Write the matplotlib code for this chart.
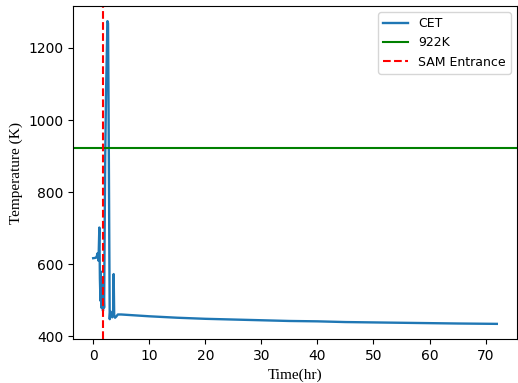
import numpy as np
import matplotlib
matplotlib.use('Agg')
import matplotlib.pyplot as plt

# CET temperature history
time_hr = [0.0, 0.4, 0.6, 0.75, 0.95, 1.1, 1.2, 1.3, 1.35, 1.45, 1.55, 1.65, 1.75,
           1.85, 1.95, 2.05, 2.15, 2.3, 2.45, 2.55, 2.65, 2.72, 2.8, 2.88, 2.95,
           3.05, 3.2, 3.4, 3.55, 3.65, 3.75, 3.9, 4.1, 4.4, 5.0, 6.0, 8.0, 10.0,
           15.0, 20.0, 25.0, 30.0, 35.0, 40.0, 45.0, 50.0, 55.0, 60.0, 65.0, 72.0]
temp_K = [617, 618, 619, 630, 610, 702, 560, 499, 580, 480, 560, 490, 471,
          520, 480, 700, 900, 1080, 1200, 1274, 1268, 1100, 880, 640, 448,
          470, 462, 453, 460, 573, 457, 452, 455, 461, 461, 460, 458, 456,
          452, 449, 447, 445, 443, 442, 440, 439, 438, 437, 436, 435]
limit_K = 922
sam_entrance_hr = 1.8

fig = plt.figure(figsize=(5.18, 3.83), dpi=100)
ax = fig.add_subplot(111)
fig.subplots_adjust(left=73/518, right=517/518, top=1-6/383, bottom=1-339/383)

ax.plot(time_hr, temp_K, label='CET', lw=1.7)
ax.axhline(limit_K, color='g', label='922K')
ax.axvline(sam_entrance_hr, color='r', linestyle='--', label='SAM Entrance')

ax.set_xlabel('Time(hr)', fontfamily='Liberation Serif', fontsize=11)
ax.set_ylabel('Temperature (K)', fontfamily='Liberation Serif', fontsize=11)
ax.set_xticks([0, 10, 20, 30, 40, 50, 60, 70])
ax.set_yticks([400, 600, 800, 1000, 1200])
ax.legend(loc='upper right', fontsize=9)

plt.savefig('out.png', dpi=100)
